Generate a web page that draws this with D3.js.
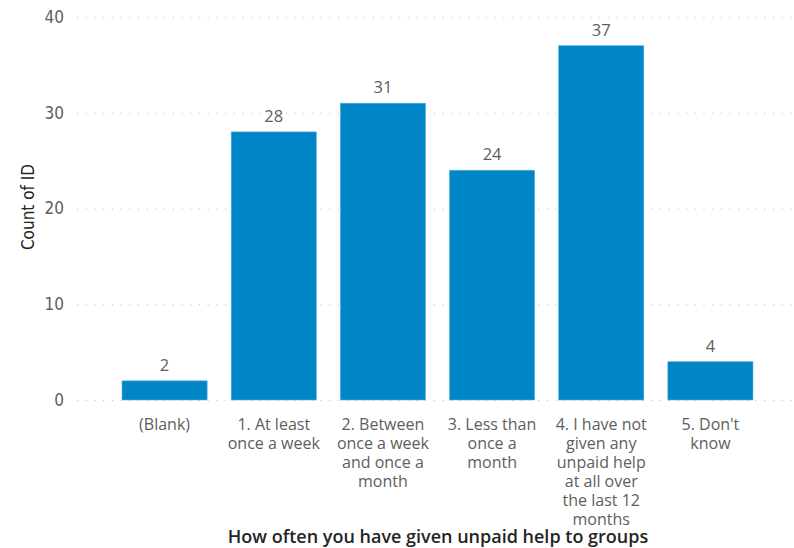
<!DOCTYPE html>
<html>
<head>
<meta charset="utf-8">
<script src="https://cdn.jsdelivr.net/npm/d3@7/dist/d3.min.js"></script>
<style>
  html, body { margin: 0; padding: 0; background: #ffffff; }
  svg { display: block; }
</style>
</head>
<body>
<svg id="chart" width="794" height="548"></svg>
<script>
const categories = [
  "(Blank)",
  "1. At least once a week",
  "2. Between once a week and once a month",
  "3. Less than once a month",
  "4. I have not given any unpaid help at all over the last 12 months",
  "5. Don't know"
];
const counts = [2, 28, 31, 24, 37, 4];
const yTicks = [0, 10, 20, 30, 40];
const yTitle = "Count of ID";
const xTitle = "How often you have given unpaid help to groups";

const svg = d3.select("#chart");

const x = d3.scaleBand()
  .domain(categories)
  .range([110, 765])
  .paddingInner(0.22)
  .paddingOuter(0.11);

const y = d3.scaleLinear()
  .domain([0, 40])
  .range([400, 17]);

const numFont = "'Liberation Sans Narrow', 'DejaVu Sans Condensed', sans-serif";
const txtFont = "'Open Sans', 'Noto Sans', sans-serif";

// gridlines
svg.append("g")
  .selectAll("line")
  .data(yTicks)
  .join("line")
  .attr("x1", 77)
  .attr("x2", 793)
  .attr("y1", d => y(d) + 0.5)
  .attr("y2", d => y(d) + 0.5)
  .attr("stroke", "#c8c6c4")
  .attr("stroke-width", 1.2)
  .attr("stroke-dasharray", "1.2,7.5");

// y axis labels
const yAxis = d3.axisLeft(y).tickValues(yTicks).tickSize(0).tickPadding(0);
const yg = svg.append("g").attr("transform", "translate(64,0)").call(yAxis);
yg.select(".domain").remove();
yg.selectAll("text")
  .attr("fill", "#605e5c")
  .style("font-family", numFont)
  .style("font-size", "17px");

// bars
svg.append("g")
  .selectAll("rect")
  .data(counts)
  .join("rect")
  .attr("x", (d, i) => x(categories[i]))
  .attr("y", d => y(d))
  .attr("width", x.bandwidth())
  .attr("height", d => y(0) - y(d))
  .attr("fill", "#0086c7")
  .attr("stroke", "#5eb3e0")
  .attr("stroke-width", 0.6);

// value labels
svg.append("g")
  .selectAll("text")
  .data(counts)
  .join("text")
  .attr("x", (d, i) => x(categories[i]) + x.bandwidth() / 2)
  .attr("y", d => y(d) - 10)
  .attr("text-anchor", "middle")
  .attr("fill", "#605e5c")
  .style("font-family", txtFont)
  .style("font-size", "16.5px")
  .text(d => d);

// category labels with wrapping
const maxW = 97;
const baseY = 430;
const lineH = 19;
const xg = svg.append("g");
categories.forEach(cat => {
  const cx = x(cat) + x.bandwidth() / 2;
  const t = xg.append("text")
    .attr("x", cx)
    .attr("y", baseY)
    .attr("text-anchor", "middle")
    .attr("fill", "#605e5c")
    .style("font-family", txtFont)
    .style("font-size", "16px");
  const words = cat.split(" ");
  let line = [];
  let lineNo = 0;
  let ts = t.append("tspan").attr("x", cx).attr("y", baseY);
  words.forEach(w => {
    line.push(w);
    ts.text(line.join(" "));
    if (ts.node().getComputedTextLength() > maxW && line.length > 1) {
      line.pop();
      ts.text(line.join(" "));
      line = [w];
      lineNo++;
      ts = t.append("tspan").attr("x", cx).attr("y", baseY + lineNo * lineH).text(w);
    }
  });
});

// axis titles
svg.append("text")
  .attr("transform", "translate(34,207) rotate(-90)")
  .attr("text-anchor", "middle")
  .attr("fill", "#252423")
  .style("font-family", numFont)
  .style("font-size", "17px")
  .text(yTitle);

svg.append("text")
  .attr("x", 438)
  .attr("y", 543)
  .attr("text-anchor", "middle")
  .attr("fill", "#252423")
  .style("font-family", txtFont)
  .style("font-weight", "600")
  .style("font-size", "18px")
  .text(xTitle);
</script>
</body>
</html>
